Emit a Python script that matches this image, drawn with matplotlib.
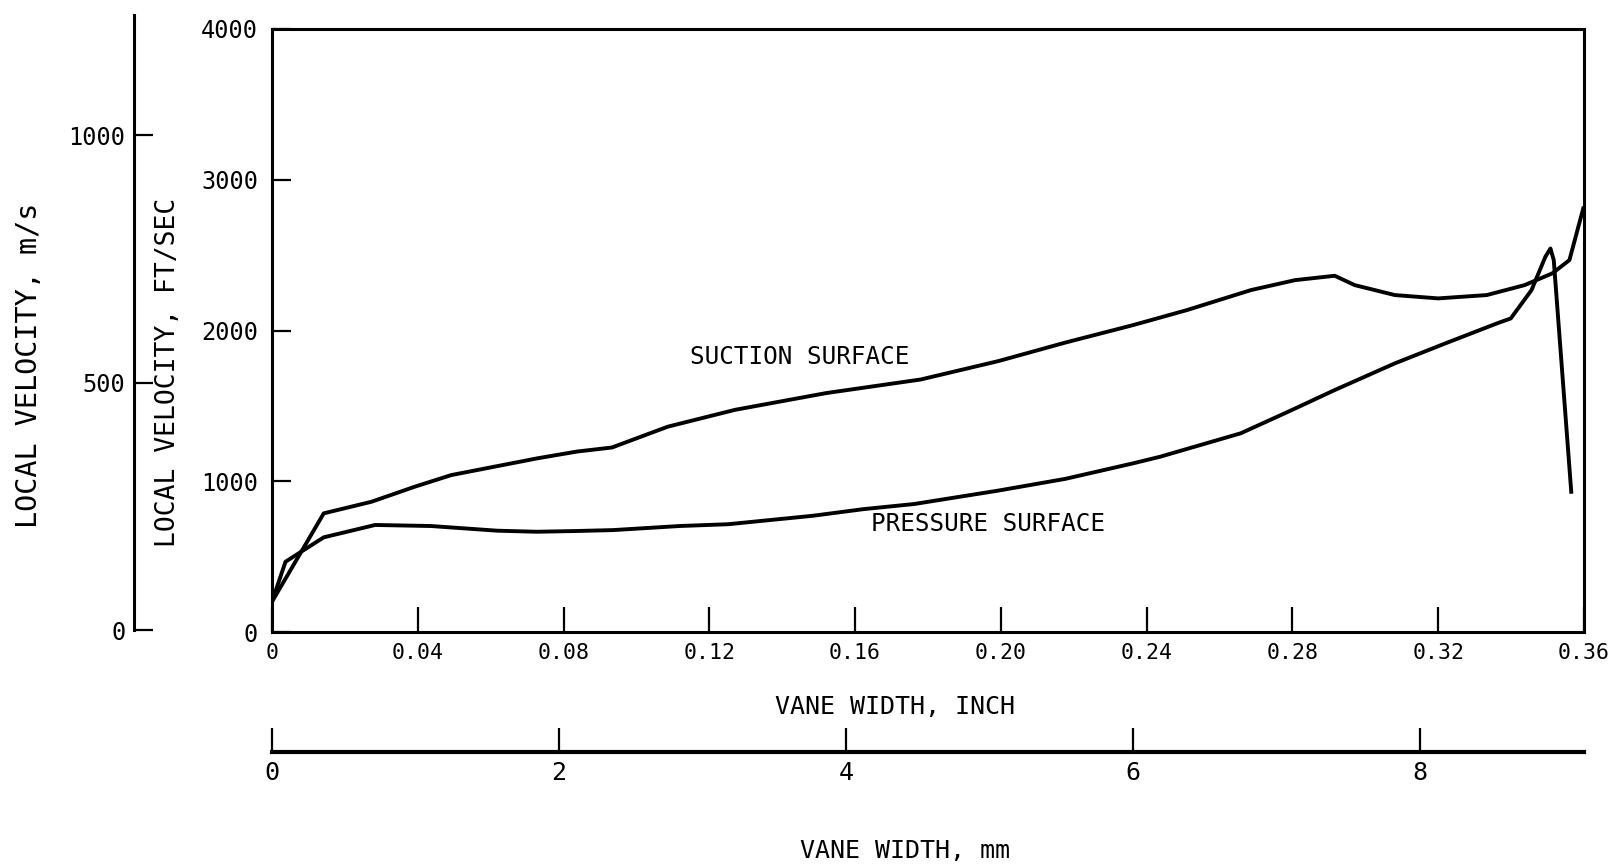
import matplotlib
matplotlib.use("Agg")
import matplotlib.pyplot as plt

# vane width (inch) vs local velocity (ft/sec)
suction_x = [0.0, 0.0142, 0.0273, 0.0392, 0.0492, 0.0728, 0.0837, 0.0933, 0.1086,
             0.1271, 0.1521, 0.1780, 0.1993, 0.2177, 0.2363, 0.2510, 0.2686, 0.2807,
             0.2916, 0.2971, 0.3081, 0.3200, 0.3333, 0.3437, 0.3513, 0.3560, 0.3598]
suction_v = [201, 787, 864, 964, 1041, 1152, 1197, 1224, 1362,
             1474, 1585, 1675, 1797, 1920, 2036, 2135, 2268, 2334,
             2363, 2301, 2235, 2213, 2235, 2301, 2379, 2467, 2810]

pressure_x = [0.0, 0.0037, 0.0142, 0.0283, 0.0436, 0.0618, 0.0727, 0.0836, 0.0936,
              0.1118, 0.1252, 0.1484, 0.1623, 0.1762, 0.1993, 0.2177, 0.2363, 0.2436,
              0.2658, 0.2798, 0.2916, 0.3081, 0.3219, 0.3361, 0.3399, 0.3456, 0.3494,
              0.3508, 0.3517, 0.3565]
pressure_v = [201, 466, 628, 710, 703, 672, 665, 670, 676,
              703, 715, 771, 815, 849, 938, 1016, 1119, 1162,
              1318, 1472, 1605, 1782, 1914, 2047, 2080, 2268, 2489,
              2544, 2467, 930]

inch_ticks = [0, 0.04, 0.08, 0.12, 0.16, 0.20, 0.24, 0.28, 0.32, 0.36]
inch_labels = ["0", "0.04", "0.08", "0.12", "0.16", "0.20", "0.24", "0.28", "0.32", "0.36"]
fps_ticks = [0, 1000, 2000, 3000, 4000]
ms_ticks = [0, 500, 1000]
mm_ticks = [0, 2, 4, 6, 8]

FT_PER_M = 3.2808
MM_PER_INCH = 25.4

plt.rcParams["font.family"] = ["DejaVu Sans Mono"]
W, H = 1612, 867

fig = plt.figure(figsize=(W / 100, H / 100), dpi=100)

#? main plot (inch / ft per sec)
ax = fig.add_axes([272 / W, 1 - 632 / H, (1584 - 272) / W, (632 - 29) / H])
ax.plot(suction_x, suction_v, color="black", lw=2.8, solid_joinstyle="round")
ax.plot(pressure_x, pressure_v, color="black", lw=2.8, solid_joinstyle="round")
ax.set_xlim(0, 0.36)
ax.set_ylim(0, 4000)
ax.set_xticks(inch_ticks)
ax.set_xticklabels(inch_labels)
ax.set_yticks(fps_ticks)
ax.tick_params(axis="x", direction="in", length=18, width=1.6, pad=8, labelsize=15.5)
ax.tick_params(axis="y", direction="in", length=14, width=1.6, pad=10, labelsize=17)
for s in ax.spines.values():
    s.set_linewidth(2.2)

ax.text(0.1448, 1824, "SUCTION SURFACE", fontsize=17.5, ha="center", va="center")
ax.text(0.1964, 716, "PRESSURE SURFACE", fontsize=17.5, ha="center", va="center")

#? secondary velocity scale in m/s (same pixels per ft/sec)
top_px, bot_px = 15, 630
ax_ms = fig.add_axes([133.6 / W, 1 - bot_px / H, 0.01, (bot_px - top_px) / H])
ax_ms.set_ylim(0, (bot_px - top_px) / (603 / 4000) / FT_PER_M)
ax_ms.set_yticks(ms_ticks)
ax_ms.set_xticks([])
ax_ms.patch.set_alpha(0)
for side in ["top", "right", "bottom"]:
    ax_ms.spines[side].set_visible(False)
ax_ms.spines["left"].set_linewidth(2.2)
ax_ms.tick_params(axis="y", direction="in", length=14, width=1.6, pad=6, labelsize=17)

#? secondary width scale in mm
ax_mm = fig.add_axes([272 / W, 1 - 751.5 / H, (1584 - 272) / W, 0.04])
ax_mm.set_xlim(0, 0.36 * MM_PER_INCH)
ax_mm.set_xticks(mm_ticks)
ax_mm.set_yticks([])
ax_mm.patch.set_alpha(0)
for side in ["top", "right", "left"]:
    ax_mm.spines[side].set_visible(False)
ax_mm.spines["bottom"].set_linewidth(3)
ax_mm.tick_params(axis="x", direction="in", length=17, width=1.6, pad=7, labelsize=18)

#? axis titles
fig.text(895 / W, 1 - 707 / H, "VANE WIDTH, INCH", fontsize=18, ha="center", va="center")
fig.text(905 / W, 1 - 851 / H, "VANE WIDTH, mm", fontsize=18, ha="center", va="center")
fig.text(29 / W, 1 - 365 / H, "LOCAL VELOCITY, m/s", fontsize=20.5, rotation=90,
         ha="center", va="center")
fig.text(168 / W, 1 - 372 / H, "LOCAL VELOCITY, FT/SEC", fontsize=19, rotation=90,
         ha="center", va="center")

fig.savefig("out.png", dpi=100)
